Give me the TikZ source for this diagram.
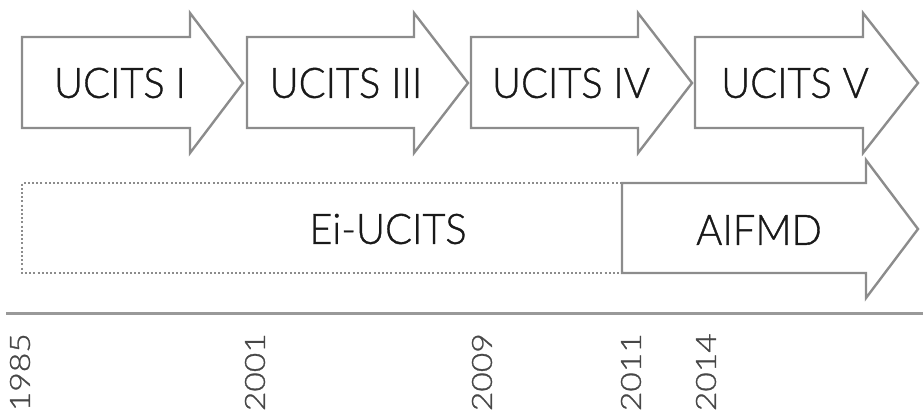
\documentclass[tikz,border=0pt]{standalone}
\usepackage{fontspec}
\setmainfont{Lato Light}[FakeBold=0.9]
\begin{document}
\begin{tikzpicture}[x=1pt,y=-1pt,
  shapeline/.style={draw=black!45,line width=2.4pt,line join=miter,fill=white},
  dotline/.style={draw=black!45,line width=2pt,dash pattern=on 2pt off 2.2pt},
  lbl/.style={inner sep=0pt,text=black!90,font=\fontsize{42}{48}\selectfont},
  yearlbl/.style={inner sep=0pt,text=black!72,rotate=90,anchor=east,font=\fontsize{28}{32}\selectfont}]
\useasboundingbox (0,0) rectangle (923,414);
% top row arrows
\draw[shapeline] (22,37) -- (190,37) -- (190,13) -- (243,83) -- (190,153) -- (190,128) -- (22,128) -- cycle;
\draw[shapeline] (247,37) -- (414,37) -- (414,13) -- (468,83) -- (414,153) -- (414,128) -- (247,128) -- cycle;
\draw[shapeline] (471,37) -- (638,37) -- (638,13) -- (692,83) -- (638,153) -- (638,128) -- (471,128) -- cycle;
\draw[shapeline] (695,37) -- (863,37) -- (863,13) -- (918,83) -- (863,153) -- (863,128) -- (695,128) -- cycle;
\node[lbl] (u1) at (120,83) {\scalebox{0.95}[1]{UCITS I}};
\node[lbl] (u3) at (346,83) {\scalebox{0.95}[1]{UCITS III}};
\node[lbl] (u4) at (571,83) {\scalebox{0.95}[1]{UCITS IV}};
\node[lbl] (u5) at (795,83) {\scalebox{0.95}[1]{UCITS V}};
% second row
\draw[dotline] (622,183) -- (22,183) -- (22,273) -- (622,273);
\draw[shapeline] (622,183) -- (866,183) -- (866,160) -- (918,229) -- (866,298) -- (866,273) -- (622,273) -- cycle;
\node[lbl] (ei) at (388,229) {\scalebox{0.95}[1]{Ei-UCITS}};
\node[lbl] (aif) at (759,230) {\scalebox{0.95}[1]{AIFMD}};
% timeline
\coordinate (tl0) at (6,313);
\coordinate (tl1) at (923,313);
\draw[draw=black!40,line width=3pt] (tl0) -- (tl1);
\node[yearlbl] (y1) at (20,333) {\scalebox{1.2}[1]{1985}};
\node[yearlbl] (y2) at (255,333) {\scalebox{1.2}[1]{2001}};
\node[yearlbl] (y3) at (482,333) {\scalebox{1.2}[1]{2009}};
\node[yearlbl] (y4) at (631,333) {\scalebox{1.2}[1]{2011}};
\node[yearlbl] (y5) at (706,333) {\scalebox{1.2}[1]{2014}};
\end{tikzpicture}
\end{document}
